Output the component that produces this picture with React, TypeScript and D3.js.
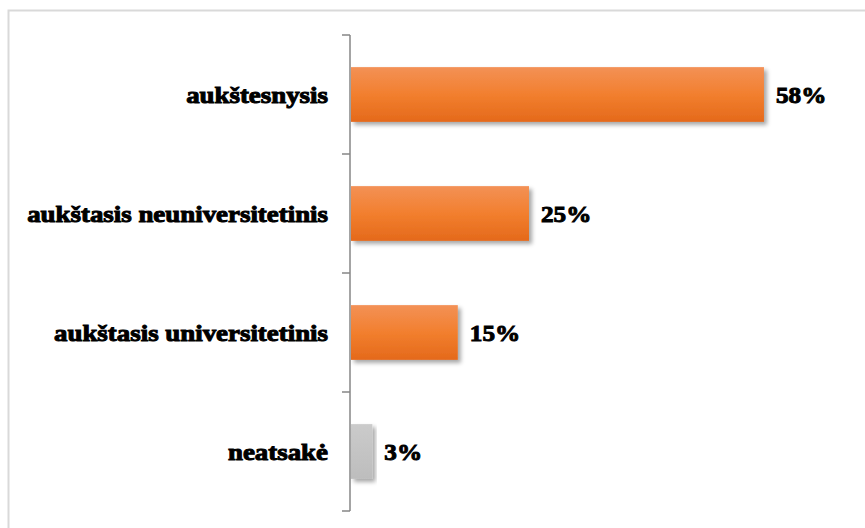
import React, { useEffect, useRef } from "react";
import * as d3 from "d3";

const categories = ["aukštesnysis", "aukštasis neuniversitetinis", "aukštasis universitetinis", "neatsakė"];
const values = [58, 25, 15, 3];
const barColors = ["orange", "orange", "orange", "gray"];

const W = 865;
const H = 528;

export default function App() {
  const ref = useRef<SVGSVGElement>(null);

  useEffect(() => {
    const svg = d3.select(ref.current);
    svg.selectAll("*").remove();

    const defs = svg.append("defs");
    const og = defs.append("linearGradient").attr("id", "gOrange").attr("x1", 0).attr("y1", 0).attr("x2", 0).attr("y2", 1);
    og.append("stop").attr("offset", "0%").attr("stop-color", "#f39156");
    og.append("stop").attr("offset", "50%").attr("stop-color", "#f27f2e");
    og.append("stop").attr("offset", "100%").attr("stop-color", "#e4691b");
    const gg = defs.append("linearGradient").attr("id", "gGray").attr("x1", 0).attr("y1", 0).attr("x2", 0).attr("y2", 1);
    gg.append("stop").attr("offset", "0%").attr("stop-color", "#cbcbcb");
    gg.append("stop").attr("offset", "100%").attr("stop-color", "#bdbdbd");
    const f = defs.append("filter").attr("id", "shadow").attr("x", "-10%").attr("y", "-20%").attr("width", "130%").attr("height", "160%");
    f.append("feDropShadow").attr("dx", 3).attr("dy", 3).attr("stdDeviation", 2).attr("flood-color", "#000").attr("flood-opacity", 0.35);

    // outer frame
    svg.append("rect").attr("x", 8.5).attr("y", 10.5).attr("width", 870).attr("height", 530)
      .attr("fill", "white").attr("stroke", "#d9d9d9").attr("stroke-width", 2);

    const x = d3.scaleLinear().domain([0, 60]).range([350, 350 + 7.12 * 60]);
    const y = d3.scaleBand().domain(categories).range([35, 511]).paddingInner(0.54).paddingOuter(0.27);

    const axisG = svg.append("g").attr("transform", "translate(350,0)");
    axisG.append("line").attr("x1", 0).attr("x2", 0).attr("y1", 35).attr("y2", 511).attr("stroke", "#868686").attr("stroke-width", 1.5);
    const step = (511 - 35) / categories.length;
    d3.range(categories.length + 1).forEach((i) => {
      axisG.append("line").attr("x1", -8).attr("x2", 0).attr("y1", 35 + i * step).attr("y2", 35 + i * step)
        .attr("stroke", "#868686").attr("stroke-width", 1.5);
    });

    svg.append("g").selectAll("rect").data(values).join("rect")
      .attr("x", x(0) + 1)
      .attr("y", (d, i) => y(categories[i])!)
      .attr("width", (d) => x(d) - x(0))
      .attr("height", y.bandwidth())
      .attr("fill", (d, i) => (barColors[i] === "orange" ? "url(#gOrange)" : "url(#gGray)"))
      .attr("filter", "url(#shadow)");

    const font = "'Liberation Serif', 'Times New Roman', serif";
    svg.append("g").selectAll("text").data(categories).join("text")
      .attr("transform", (d) => `translate(328,${y(d)! + y.bandwidth() / 2}) scale(1.12,1)`)
      .attr("dy", "0.35em")
      .attr("text-anchor", "end")
      .attr("font-family", font)
      .attr("font-weight", "bold")
      .attr("font-size", 24)
      .attr("stroke", "#000")
      .attr("stroke-width", 1)
      .text((d) => d);

    svg.append("g").selectAll("text").data(values).join("text")
      .attr("transform", (d, i) => `translate(${x(d) + 13},${y(categories[i])! + y.bandwidth() / 2}) scale(1.05,1)`)
      .attr("dy", "0.35em")
      .attr("font-family", font)
      .attr("font-weight", "bold")
      .attr("font-size", 24)
      .attr("stroke", "#000")
      .attr("stroke-width", 1)
      .text((d) => d + "%");
  }, []);

  return (
    <svg ref={ref} width={W} height={H} style={{ position: "fixed", left: 0, top: 0, background: "white" }} />
  );
}
